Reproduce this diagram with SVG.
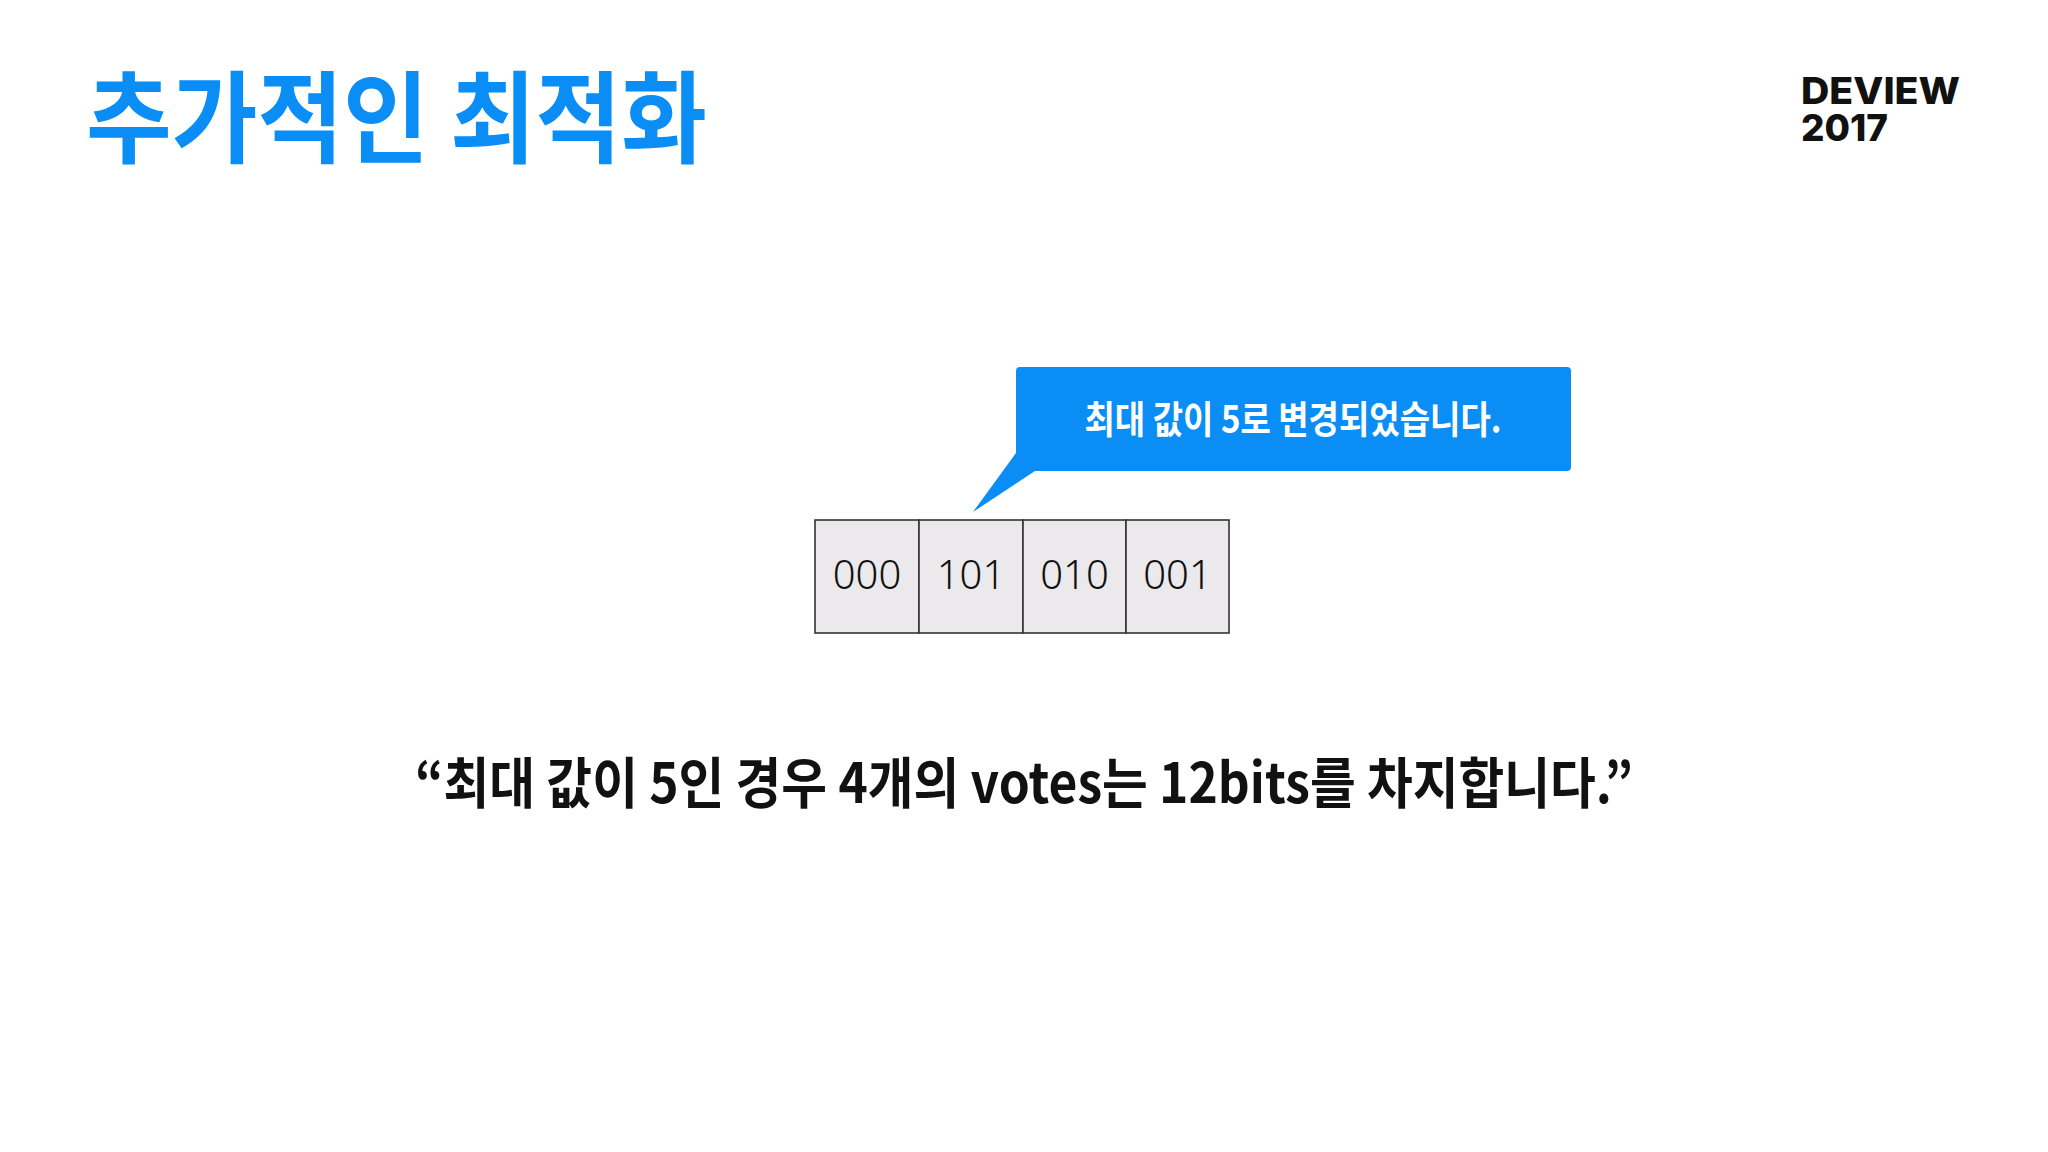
<svg xmlns="http://www.w3.org/2000/svg" width="2048" height="1152" viewBox="0 0 2048 1152">
<style>
.title{font-family:"Noto Sans CJK KR","Noto Sans",sans-serif;font-weight:700;font-size:100px;fill:#0A8EF5}
.logo{font-family:Inter,"Liberation Sans",sans-serif;font-weight:800;font-size:37px;fill:#111}
.cell{fill:#EBE9EC;stroke:#333;stroke-width:1.6}
.num{font-family:"Noto Sans","Open Sans",sans-serif;font-weight:300;font-size:40px;fill:#111;text-anchor:middle}
.callout{fill:#0A8EF5}
.ctext{font-family:"Noto Sans CJK KR",sans-serif;font-weight:700;font-size:38px;fill:#fff;text-anchor:middle}
.quote{font-family:"Noto Sans CJK KR",sans-serif;font-weight:700;font-size:55px;fill:#111}
</style>
<rect width="2048" height="1152" fill="#fff"/>
<g id="title"><text class="title" x="86" y="155" textLength="621" lengthAdjust="spacingAndGlyphs">추가적인 최적화</text></g>
<g id="logo"><text class="logo" x="1801" y="104" textLength="159" lengthAdjust="spacingAndGlyphs">DEVIEW</text><text class="logo" x="1801" y="141" textLength="87" lengthAdjust="spacingAndGlyphs">2017</text></g>
<g id="callout">
<path class="callout" d="M1020 367 H1567 Q1571 367 1571 371 V467 Q1571 471 1567 471 H1035 L973 512 L1016 453 V371 Q1016 367 1020 367 Z"/>
<text class="ctext" x="1293" y="433" textLength="417" lengthAdjust="spacingAndGlyphs">최대 값이 5로 변경되었습니다.</text>
</g>
<g id="cells">
<rect class="cell" x="815" y="520" width="104" height="113"/>
<rect class="cell" x="919" y="520" width="104" height="113"/>
<rect class="cell" x="1023" y="520" width="103" height="113"/>
<rect class="cell" x="1126" y="520" width="103" height="113"/>
<text class="num" x="867" y="589">000</text>
<text class="num" x="971" y="589">101</text>
<text class="num" x="1074.5" y="589">010</text>
<text class="num" x="1177.5" y="589">001</text>
</g>
<g id="connectors"/>
<g id="caption"><text class="quote" x="415" y="803" textLength="1218" lengthAdjust="spacingAndGlyphs">“최대 값이 5인 경우 4개의 votes는 12bits를 차지합니다.”</text></g>
</svg>
